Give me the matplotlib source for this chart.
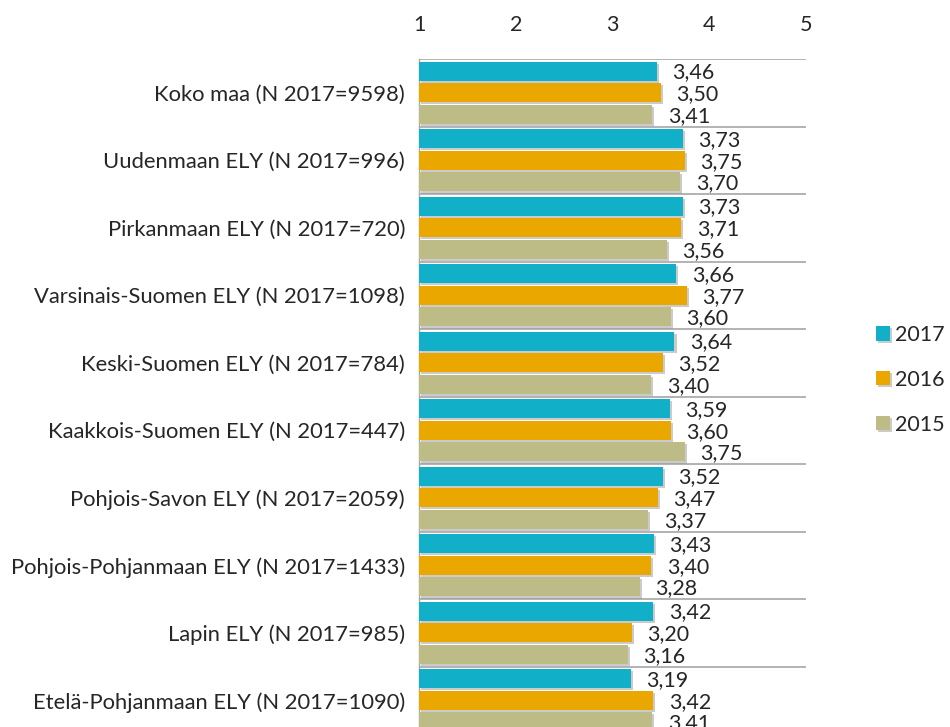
import matplotlib
matplotlib.use("Agg")
import matplotlib.pyplot as plt
import matplotlib.patheffects as pe
import numpy as np

plt.rcParams['font.family'] = ['Lato', 'DejaVu Sans']

categories = [
    "Koko maa (N 2017=9598)",
    "Uudenmaan ELY (N 2017=996)",
    "Pirkanmaan ELY (N 2017=720)",
    "Varsinais-Suomen ELY (N 2017=1098)",
    "Keski-Suomen ELY (N 2017=784)",
    "Kaakkois-Suomen ELY (N 2017=447)",
    "Pohjois-Savon ELY (N 2017=2059)",
    "Pohjois-Pohjanmaan ELY (N 2017=1433)",
    "Lapin ELY (N 2017=985)",
    "Etelä-Pohjanmaan ELY (N 2017=1090)",
]
series_names = ["2017", "2016", "2015"]
v2017 = [3.46, 3.73, 3.73, 3.66, 3.64, 3.59, 3.52, 3.43, 3.42, 3.19]
v2016 = [3.50, 3.75, 3.71, 3.77, 3.52, 3.60, 3.47, 3.40, 3.20, 3.42]
v2015 = [3.41, 3.70, 3.56, 3.60, 3.40, 3.75, 3.37, 3.28, 3.16, 3.41]
xticks = [1, 2, 3, 4, 5]

colors = ["#12AFC9", "#EAA700", "#BDBB86"]
series = [v2017, v2016, v2015]

W, H = 950, 727
fig = plt.figure(figsize=(W / 100, H / 100), dpi=100)
left_px, right_px = 419, 806
top_px = 59
group_px = 67.5
n = len(categories)
bottom_px = top_px + group_px * n
ax = fig.add_axes([left_px / W, (H - bottom_px) / H,
                   (right_px - left_px) / W, (bottom_px - top_px) / H])

y = np.arange(n)
offsets = [-0.32, 0.0, 0.32]
bh = 0.285
shadow = [pe.SimplePatchShadow(offset=(1.5, -1.5), shadow_rgbFace='#999999', alpha=0.5), pe.Normal()]
for vals, col, off, name in zip(series, colors, offsets, series_names):
    bars = ax.barh(y + off, np.array(vals) - 1, left=1, height=bh, color=col,
                   label=name, zorder=3)
    for b in bars:
        b.set_path_effects(shadow)
    for yi, v in zip(y + off, vals):
        ax.text(v + 0.16, yi + 0.02, f"{v:.2f}".replace(".", ","), va='center', ha='left',
                fontsize=15.5, color='#262626', zorder=4)

ax.set_xlim(1, 5)
ax.set_ylim(n - 0.5, -0.5)
ax.xaxis.tick_top()
ax.set_xticks(xticks)
ax.set_xticklabels([str(t) for t in xticks], fontsize=15.5, color='#262626')
ax.tick_params(axis='x', length=0, pad=17)
ax.set_yticks(y)
ax.set_yticklabels(categories, fontsize=15.8, color='#262626')
ax.tick_params(axis='y', length=0, pad=10)

for s in ['top', 'right', 'bottom']:
    ax.spines[s].set_visible(False)
ax.spines['left'].set_color('#A6A6A6')
ax.spines['left'].set_linewidth(1)
for b in np.arange(n) - 0.5:
    ax.axhline(b, color='#A6A6A6', linewidth=1.2, zorder=2)

leg = fig.legend(loc='upper left', bbox_to_anchor=(876 / W, 1 - 325 / H), frameon=False,
                 fontsize=15.5, handlelength=0.65, handleheight=0.65, handletextpad=0.25,
                 labelspacing=1.15, borderaxespad=0, borderpad=0)
for t in leg.get_texts():
    t.set_color('#262626')

fig.savefig("out.png", dpi=100)
